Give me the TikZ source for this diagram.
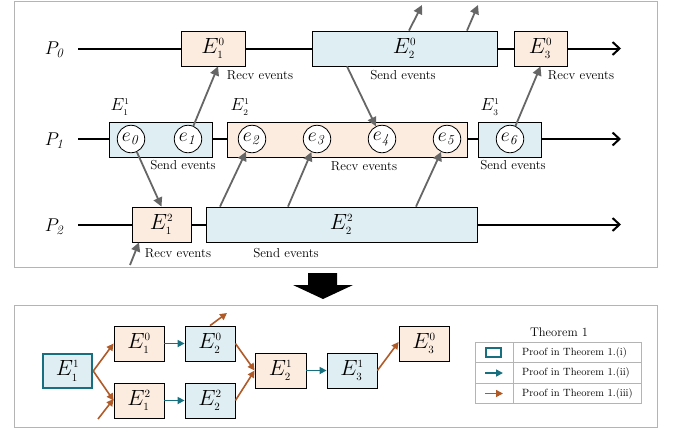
\RequirePackage{fix-cm}
\documentclass[tikz,border=0pt]{standalone}
\usetikzlibrary{arrows.meta}
\definecolor{lblue}{HTML}{DFEEF3}
\definecolor{lorange}{HTML}{FCEBDF}
\definecolor{tealc}{HTML}{17707F}
\definecolor{brownc}{HTML}{B05A28}
\definecolor{garr}{HTML}{666666}
\definecolor{framec}{HTML}{B4B4B4}
\newcommand\Eb[2]{E^{\scriptscriptstyle #1}_{\scriptscriptstyle #2}}
\tikzset{
  box/.style={draw=black, line width=0.8pt, inner sep=0pt, font=\fontsize{22}{24}\selectfont},
  bbox/.style={box, fill=lblue},
  obox/.style={box, fill=lorange},
  ev/.style={circle, draw=black, fill=white, line width=0.8pt, minimum size=27.5pt, inner sep=0pt, font=\fontsize{19.5}{21}\selectfont},
  tline/.style={line width=2pt, -{Straight Barb[length=7pt,width=13pt]}},
  garrow/.style={draw=garr, line width=1.8pt, -{Triangle[length=9pt,width=9pt]}},
  lbl/.style={font=\fontsize{13}{15}\selectfont, inner sep=0pt},
  plbl/.style={font=\fontsize{18.5}{20}\selectfont, inner sep=0pt},
  hlbl/.style={font=\fontsize{17.5}{19}\selectfont, inner sep=0pt},
  tarr/.style={draw=tealc, line width=1.6pt, -{Triangle[length=7pt,width=7pt]}},
  barr/.style={draw=brownc, line width=1.6pt, -{Triangle[length=7pt,width=7pt]}},
  legtxt/.style={font=\fontsize{10.5}{12}\selectfont, inner sep=0pt, anchor=west},
  framebox/.style={draw=framec, line width=1pt},
}
\begin{document}
\begin{tikzpicture}[x=1pt,y=-1pt]
\useasboundingbox (0,0) rectangle (675,432);
% frames
\draw[framebox] (14,1) rectangle (657,267);
\draw[framebox] (14,305) rectangle (657,427);

% timelines (behind boxes)
\coordinate (s0) at (78,48.5);  \coordinate (t0) at (621,48.5);
\coordinate (s1) at (78,139);   \coordinate (t1) at (621,139);
\coordinate (s2) at (78,224.5); \coordinate (t2) at (621,224.5);
\draw[tline] (s0) -- (t0);
\draw[tline] (s1) -- (t1);
\draw[tline] (s2) -- (t2);

% process labels
\node[plbl] (P0) at (55,50) {$P_{\mathit{0}}$};
\node[plbl] (P1) at (55,141) {$P_{\mathit{1}}$};
\node[plbl] (P2) at (55,227) {$P_{\mathit{2}}$};

% row P0
\node[obox, minimum width=64pt, minimum height=35pt] (E10) at (213,48.5) {$\Eb01$};
\node[bbox, minimum width=185pt, minimum height=35pt] (E20) at (404.5,48.5) {$\Eb02$};
\node[obox, minimum width=53pt, minimum height=35pt] (E30) at (540.5,48.5) {$\Eb03$};
\node[lbl] (L10) at (260,75) {Recv events};
\node[lbl] (L20) at (403,75) {Send events};
\node[lbl] (L30) at (581,75) {Recv events};

% row P1
\node[bbox, minimum width=103pt, minimum height=35pt] (E11) at (160.5,139.5) {};
\node[obox, minimum width=240pt, minimum height=35pt] (E21) at (347,139.5) {};
\node[bbox, minimum width=63pt, minimum height=35pt] (E31) at (509.5,139.5) {};
\node[hlbl] (H11) at (120,107) {$\Eb11$};
\node[hlbl] (H21) at (240,107) {$\Eb12$};
\node[hlbl] (H31) at (490,107) {$\Eb13$};
\node[ev] (e0) at (131,139) {$e_{\mathit{0}}$};
\node[ev] (e1) at (188,139) {$e_{\mathit{1}}$};
\node[ev] (e2) at (252,139) {$e_{\mathit{2}}$};
\node[ev] (e3) at (317,139) {$e_{\mathit{3}}$};
\node[ev] (e4) at (382,139) {$e_{\mathit{4}}$};
\node[ev] (e5) at (447,139) {$e_{\mathit{5}}$};
\node[ev] (e6) at (510,139) {$e_{\mathit{6}}$};
\node[lbl] (L11) at (183,165) {Send events};
\node[lbl] (L21) at (364,166) {Recv events};
\node[lbl] (L31) at (513,165) {Send events};

% row P2
\node[obox, minimum width=59pt, minimum height=35pt] (E12) at (161.5,224.5) {$\Eb21$};
\node[bbox, minimum width=271pt, minimum height=35pt] (E22) at (341.5,224.5) {$\Eb22$};
\node[lbl] (L12) at (178,253) {Recv events};
\node[lbl] (L22) at (286,253) {Send events};

% message arrows
\coordinate (o1) at (422,5);
\coordinate (o2) at (478,5);
\coordinate (i1) at (130,265);
\draw[garrow] ([xshift=4.5pt]E20.north) -- (o1);
\draw[garrow] ([xshift=62.5pt]E20.north) -- (o2);
\draw[garrow] (e1) -- ([xshift=5pt]E10.south);
\draw[garrow] ([xshift=-57.5pt]E20.south) -- (e4);
\draw[garrow] (e6) -- (E30.south);
\draw[garrow] (e0) -- (E12.north);
\draw[garrow] ([xshift=-121.5pt]E22.north) -- (e2);
\draw[garrow] ([xshift=-53.5pt]E22.north) -- (e3);
\draw[garrow] ([xshift=74.5pt]E22.north) -- (e5);
\draw[garrow] (i1) -- ([xshift=-22.5pt]E12.south);

% big arrow
\fill[black] (308,273) -- (337,273) -- (337,285) -- (353,285) -- (323,299) -- (293,285) -- (308,285) -- cycle;

% bottom graph
\node[bbox, draw=tealc, line width=2.5pt, minimum width=49pt, minimum height=34pt] (B11) at (67.5,371) {$\Eb11$};
\node[obox, minimum width=50pt, minimum height=35pt] (B10) at (139,343.5) {$\Eb01$};
\node[obox, minimum width=50pt, minimum height=35pt] (B12) at (139,400.5) {$\Eb21$};
\node[bbox, minimum width=50pt, minimum height=35pt] (B20) at (210,343.5) {$\Eb02$};
\node[bbox, minimum width=50pt, minimum height=35pt] (B22) at (210,400.5) {$\Eb22$};
\node[obox, minimum width=51pt, minimum height=35pt] (B21) at (280.5,370.5) {$\Eb12$};
\node[bbox, minimum width=50pt, minimum height=35pt] (B31) at (352,370.5) {$\Eb13$};
\node[obox, minimum width=50pt, minimum height=35pt] (B30) at (424,343.5) {$\Eb03$};

\coordinate (bi) at (98,419);
\coordinate (bo) at (227,313);
\draw[barr] (B11.east) -- (B10.west);
\draw[barr] (B11.east) -- (B12.west);
\draw[barr] (bi) -- ([yshift=1.5pt]B12.west);
\draw[tarr] (B10) -- (B20);
\draw[tarr] (B12) -- (B22);
\draw[barr] (B20.north) -- (bo);
\draw[barr] (B20.east) -- (B21.west);
\draw[barr] (B22.east) -- (B21.west);
\draw[tarr] (B21) -- (B31);
\draw[barr] (B31.east) -- ([yshift=1.5pt]B30.west);

% legend
\node[font=\fontsize{12.5}{14}\selectfont, inner sep=0pt] (LT) at (559,332) {Theorem 1};
\draw[framec, line width=0.8pt] (475,342) rectangle (641,403);
\draw[framec, line width=0.8pt] (513,342) -- (513,403);
\draw[framec, line width=0.8pt] (475,362.5) -- (641,362.5);
\draw[framec, line width=0.8pt] (475,383) -- (641,383);
\node[draw=tealc, line width=1.5pt, minimum width=15pt, minimum height=9pt, inner sep=0pt] (Licon) at (493.5,352.5) {};
\coordinate (La1) at (485,373); \coordinate (Lb1) at (503,373);
\coordinate (La2) at (485,393.5); \coordinate (Lb2) at (503,393.5);
\draw[tarr] (La1) -- (Lb1);
\draw[barr] (La2) -- (Lb2);
\node[legtxt] (T1) at (522,352.5) {Proof in Theorem 1.(i)};
\node[legtxt] (T2) at (522,373) {Proof in Theorem 1.(ii)};
\node[legtxt] (T3) at (522,393.5) {Proof in Theorem 1.(iii)};
\end{tikzpicture}
\end{document}
